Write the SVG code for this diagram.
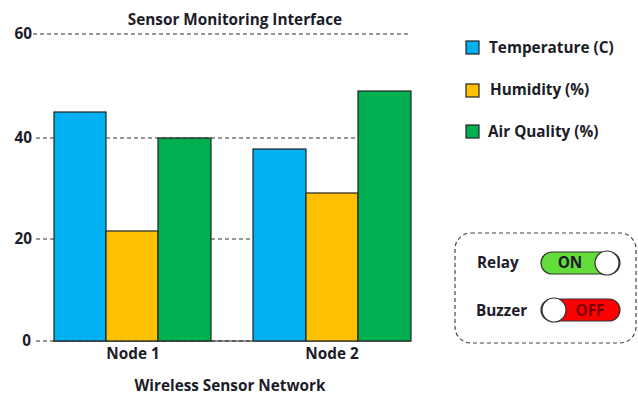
<svg xmlns="http://www.w3.org/2000/svg" width="638" height="394" viewBox="0 0 638 394">
  <style>
    text { font-family: "Open Sans", "Liberation Sans", sans-serif; font-weight: bold; fill: #1c1c28; }
    .t { font-size: 15.3px; }
    .grid { stroke: #333; stroke-width: 1; stroke-dasharray: 4 3; fill: none; }
    .bar { stroke: #222; stroke-width: 1.2; }
    .temp { fill: #00b0f0; }
    .hum { fill: #ffc000; }
    .air { fill: #00b050; }
    .knob { fill: #fff; stroke: #333; stroke-width: 1.2; }
  </style>

  <rect width="638" height="394" fill="#fff"/>

  <text class="t" x="235" y="25" text-anchor="middle">Sensor Monitoring Interface</text>

  <!-- gridlines and axis ticks -->
  <g id="axis">
    <line class="grid" x1="33" y1="34" x2="411" y2="34"/>
    <line class="grid" x1="36" y1="138" x2="411" y2="138"/>
    <line class="grid" x1="36" y1="239" x2="411" y2="239"/>
    <line class="grid" x1="36" y1="341" x2="253" y2="341"/>
    <line x1="53" y1="341" x2="411" y2="341" stroke="#222" stroke-width="1.2"/>
    <text class="t" x="32" y="39" text-anchor="end">60</text>
    <text class="t" x="32" y="143" text-anchor="end">40</text>
    <text class="t" x="32" y="244" text-anchor="end">20</text>
    <text class="t" x="31" y="346" text-anchor="end">0</text>
  </g>

  <!-- bars: Node 1 -->
  <g id="node1">
    <rect class="bar temp" x="54" y="112" width="52" height="229"/>
    <rect class="bar hum" x="106" y="231" width="52" height="110"/>
    <rect class="bar air" x="158" y="138" width="53" height="203"/>
    <text class="t" x="133" y="359" text-anchor="middle">Node 1</text>
  </g>

  <!-- bars: Node 2 -->
  <g id="node2">
    <rect class="bar temp" x="253" y="149" width="53" height="192"/>
    <rect class="bar hum" x="306" y="193" width="52" height="148"/>
    <rect class="bar air" x="358" y="91" width="53" height="250"/>
    <text class="t" x="332" y="359" text-anchor="middle">Node 2</text>
  </g>

  <text class="t" x="230" y="391" text-anchor="middle">Wireless Sensor Network</text>

  <!-- legend -->
  <g id="legend">
    <rect class="bar temp" x="466" y="41" width="13" height="13"/>
    <text class="t" x="489" y="53">Temperature (C)</text>
    <rect class="bar hum" x="466" y="84" width="13" height="13"/>
    <text class="t" x="490" y="95">Humidity (%)</text>
    <rect class="bar air" x="466" y="125" width="13" height="13"/>
    <text class="t" x="488" y="137">Air Quality (%)</text>
  </g>

  <!-- actuator switches -->
  <g id="controls">
    <rect x="455" y="233" width="181" height="110" rx="16" fill="none" stroke="#444" stroke-width="1.2" stroke-dasharray="4 3"/>
    <text class="t" x="477" y="268">Relay</text>
    <rect x="541" y="252" width="79" height="22" rx="11" fill="#62dd3a" stroke="#333" stroke-width="1.2"/>
    <text class="t" x="570" y="268" text-anchor="middle">ON</text>
    <circle class="knob" cx="607" cy="263" r="12"/>
    <text class="t" x="476" y="316">Buzzer</text>
    <rect x="541" y="299" width="79" height="22" rx="11" fill="#ff0000" stroke="#333" stroke-width="1.2"/>
    <text class="t" x="590" y="316" text-anchor="middle" style="fill:#7a0000">OFF</text>
    <circle class="knob" cx="554" cy="310" r="12"/>
  </g>
</svg>
